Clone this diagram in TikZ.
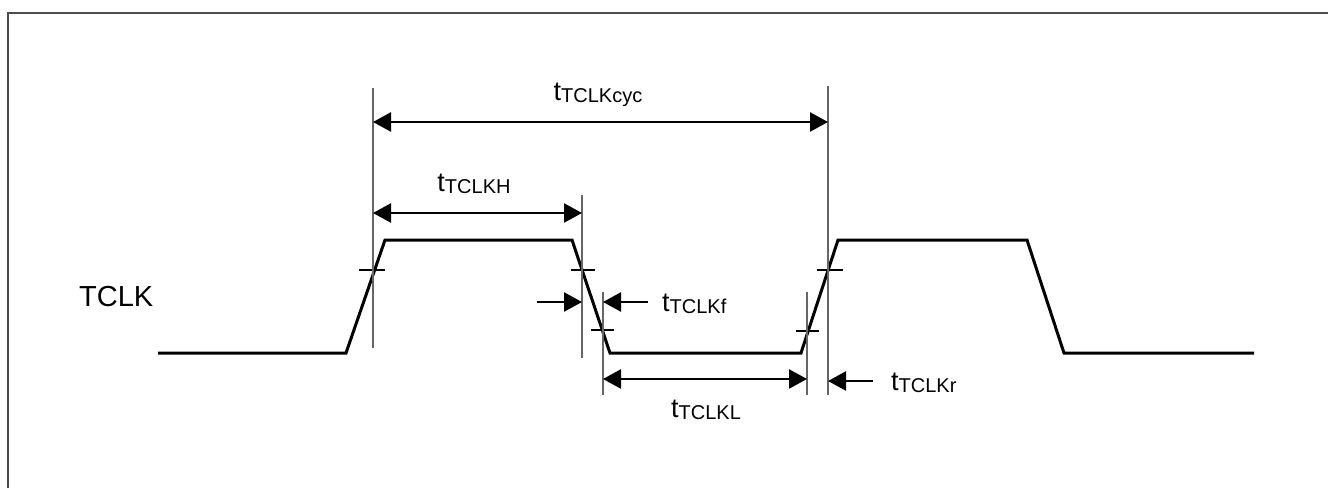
\documentclass[tikz,border=0pt]{standalone}
\usepackage{fontspec}
\setmainfont{Liberation Sans}
\usetikzlibrary{arrows.meta}
\newcommand{\tmsub}[1]{t{\fontsize{20}{20}\selectfont\raisebox{-2pt}{#1}}}
\begin{document}
\begin{tikzpicture}[x=1pt,y=-1pt,
  wave/.style={line width=3pt, line join=miter},
  guide/.style={line width=1.3pt, draw=black!60},
  dimarrow/.style={line width=2.5pt, {Triangle[length=18pt,width=19pt]}-{Triangle[length=18pt,width=19pt]}},
  ptr/.style={line width=2.5pt, -{Triangle[length=18pt,width=19pt]}},
  tickmark/.style={line width=2pt},
  frameline/.style={line width=2pt, draw=black!70},
  lbl/.style={inner sep=0pt, font=\fontsize{27}{27}\selectfont},
]
\useasboundingbox (0,0) rectangle (1328,488);
% frame
\coordinate (fa) at (8,488);
\coordinate (fb) at (8,13);
\coordinate (fc) at (1328,13);
\draw[frameline] (fa) -- (fb) -- (fc);

% waveform
\coordinate (w0) at (158,353);
\coordinate (w1) at (346,353);
\coordinate (w2) at (385,240);
\coordinate (w3) at (572,240);
\coordinate (w4) at (610,353);
\coordinate (w5) at (801,353);
\coordinate (w6) at (838,240);
\coordinate (w7) at (1027,240);
\coordinate (w8) at (1064,353);
\coordinate (w9) at (1254,353);
\draw[wave] (w0) -- (w1) -- (w2) -- (w3) -- (w4) -- (w5) -- (w6) -- (w7) -- (w8) -- (w9);

% ticks
\coordinate (k1a) at (359,270); \coordinate (k1b) at (385,270);
\coordinate (k2a) at (571,270); \coordinate (k2b) at (595,270);
\coordinate (k3a) at (591,330); \coordinate (k3b) at (614,330);
\coordinate (k4a) at (796,331); \coordinate (k4b) at (819,331);
\coordinate (k5a) at (817,270); \coordinate (k5b) at (843,270);
\draw[tickmark] (k1a) -- (k1b);
\draw[tickmark] (k2a) -- (k2b);
\draw[tickmark] (k3a) -- (k3b);
\draw[tickmark] (k4a) -- (k4b);
\draw[tickmark] (k5a) -- (k5b);

% guide lines
\coordinate (g1t) at (373,88);  \coordinate (g1b) at (373,348);
\coordinate (g2t) at (582,195); \coordinate (g2b) at (582,358);
\coordinate (g3t) at (603,292); \coordinate (g3b) at (603,395);
\coordinate (g4t) at (807,292); \coordinate (g4b) at (807,395);
\coordinate (g5t) at (828,86);  \coordinate (g5b) at (828,395);
\draw[guide] (g1t) -- (g1b);
\draw[guide] (g2t) -- (g2b);
\draw[guide] (g3t) -- (g3b);
\draw[guide] (g4t) -- (g4b);
\draw[guide] (g5t) -- (g5b);

% dimension arrows
\coordinate (cycL) at (373,122); \coordinate (cycR) at (828,122);
\draw[dimarrow] (cycL) -- (cycR);
\coordinate (hL) at (373,213); \coordinate (hR) at (582,213);
\draw[dimarrow] (hL) -- (hR);
\coordinate (lL) at (603,379); \coordinate (lR) at (807,379);
\draw[dimarrow] (lL) -- (lR);
\coordinate (f1s) at (537,302); \coordinate (f1e) at (582,302);
\coordinate (f2s) at (648,302); \coordinate (f2e) at (603,302);
\draw[ptr] (f1s) -- (f1e);
\draw[ptr] (f2s) -- (f2e);
\coordinate (r2s) at (873,381); \coordinate (r2e) at (828,381);
\draw[ptr] (r2s) -- (r2e);

% labels
\node[lbl, anchor=base] (lcyc) at (598,100) {\tmsub{TCLKcyc}};
\node[lbl, anchor=base] (lh) at (474,191) {\tmsub{TCLKH}};
\node[lbl, anchor=base west] (lf) at (662,311) {\tmsub{TCLKf}};
\node[lbl, anchor=base] (ll) at (706,417) {\tmsub{TCLKL}};
\node[lbl, anchor=base west] (lr) at (891,390) {\tmsub{TCLKr}};
\node[inner sep=0pt, anchor=base west, font=\fontsize{29}{29}\selectfont] (sig) at (79,306) {TCLK};
\end{tikzpicture}
\end{document}
